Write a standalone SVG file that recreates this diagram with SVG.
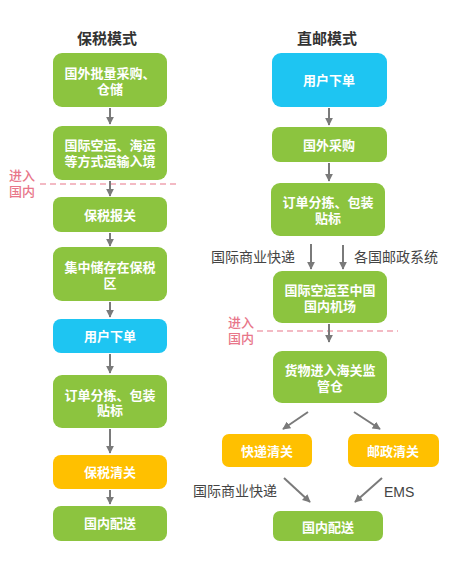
<svg xmlns="http://www.w3.org/2000/svg" width="463" height="569" viewBox="0 0 463 569">
<defs>
<marker id="ah" viewBox="0 0 10 10" refX="9" refY="5" markerWidth="4" markerHeight="4" orient="auto" markerUnits="strokeWidth">
<path d="M0,0 L10,5 L0,10 z" fill="#7a7a7a"/>
</marker>
<style>
text{font-family:"Liberation Sans","Noto Sans CJK SC",sans-serif}
.g{fill:#8cc43f}
.b{fill:#1ec5f2}
.y{fill:#ffc000}
.t{fill:#fff;font-size:13px;font-weight:bold;text-anchor:middle}
.h{fill:#333;font-size:15px;font-weight:bold;text-anchor:middle}
.l{fill:#444;font-size:14px}
.p{fill:#e8768a;font-size:13px;font-weight:500}
.c line{stroke:#7a7a7a;stroke-width:2;marker-end:url(#ah)}
.d{stroke:#e8768a;stroke-width:1.2;stroke-dasharray:6 4}
</style>
</defs>
<rect width="463" height="569" fill="#fff"/>
<text class="h" x="107" y="43.5">保税模式</text>
<text class="h" x="327" y="43.5">直邮模式</text>

<line class="d" x1="40" y1="184" x2="180" y2="184"/>
<text class="p" x="9" y="179.5">进入<tspan x="9" dy="16.5">国内</tspan></text>
<line class="d" x1="257" y1="331" x2="398" y2="331"/>
<text class="p" x="228" y="326.5">进入<tspan x="228" dy="16">国内</tspan></text>

<g id="L1"><rect class="g" x="53" y="53" width="114" height="54" rx="9"/><text class="t" x="110" y="77.5">国外批量采购、<tspan x="110" dy="16">仓储</tspan></text></g>
<g id="L2"><rect class="g" x="53" y="126" width="114" height="54" rx="9"/><text class="t" x="110" y="149.5">国际空运、海运<tspan x="110" dy="16">等方式运输入境</tspan></text></g>
<g id="L3"><rect class="g" x="53" y="197" width="114" height="35" rx="8"/><text class="t" x="110" y="219.5">保税报关</text></g>
<g id="L4"><rect class="g" x="53" y="247" width="114" height="54" rx="9"/><text class="t" x="110" y="271.5">集中储存在保税<tspan x="110" dy="16">区</tspan></text></g>
<g id="L5"><rect class="b" x="53" y="319" width="114" height="34" rx="8"/><text class="t" x="110" y="340.5">用户下单</text></g>
<g id="L6"><rect class="g" x="53" y="375" width="114" height="53" rx="9"/><text class="t" x="110" y="399.5">订单分拣、包装<tspan x="110" dy="15.5">贴标</tspan></text></g>
<g id="L7"><rect class="y" x="53" y="455" width="114" height="34" rx="8"/><text class="t" x="110" y="476.5">保税清关</text></g>
<g id="L8"><rect class="g" x="53" y="506" width="114" height="35" rx="8"/><text class="t" x="110" y="527.5">国内配送</text></g>

<g id="R1"><rect class="b" x="272" y="53" width="115" height="54" rx="9"/><text class="t" x="329" y="84.5">用户下单</text></g>
<g id="R2"><rect class="g" x="272" y="127" width="115" height="35" rx="8"/><text class="t" x="329" y="149.5">国外采购</text></g>
<g id="R3"><rect class="g" x="271" y="183" width="114" height="53" rx="9"/><text class="t" x="328" y="206.5">订单分拣、包装<tspan x="328" dy="16">贴标</tspan></text></g>
<g id="R4"><rect class="g" x="273" y="271" width="114" height="52" rx="9"/><text class="t" x="330" y="294.5">国际空运至中国<tspan x="330" dy="16">国内机场</tspan></text></g>
<g id="R5"><rect class="g" x="273" y="351" width="114" height="52" rx="9"/><text class="t" x="330" y="374.5">货物进入海关监<tspan x="330" dy="16">管仓</tspan></text></g>
<g id="R6"><rect class="y" x="222" y="434" width="90" height="33" rx="7"/><text class="t" x="267" y="455.5">快递清关</text></g>
<g id="R7"><rect class="y" x="348" y="434" width="91" height="33" rx="7"/><text class="t" x="393" y="455.5">邮政清关</text></g>
<g id="R8"><rect class="g" x="273" y="511" width="110" height="30" rx="7"/><text class="t" x="328" y="531.5">国内配送</text></g>

<text class="l" x="211" y="262">国际商业快递</text>
<text class="l" x="354" y="262">各国邮政系统</text>
<text class="l" x="193" y="496">国际商业快递</text>
<text class="l" x="384" y="497">EMS</text>

<g id="connectors" class="c">
<line x1="110" y1="108" x2="110" y2="124"/>
<line x1="110" y1="181" x2="110" y2="196"/>
<line x1="110" y1="233" x2="110" y2="246"/>
<line x1="110" y1="302" x2="110" y2="317"/>
<line x1="110" y1="354" x2="110" y2="373"/>
<line x1="110" y1="429" x2="110" y2="453"/>
<line x1="110" y1="490" x2="110" y2="504"/>
<line x1="329" y1="108" x2="329" y2="125"/>
<line x1="329" y1="163" x2="329" y2="181"/>
<line x1="311" y1="244" x2="311" y2="269"/>
<line x1="343" y1="245" x2="343" y2="269"/>
<line x1="329" y1="324" x2="329" y2="342"/>
<line x1="308" y1="412" x2="283" y2="429"/>
<line x1="354" y1="412" x2="380" y2="429"/>
<line x1="284" y1="478" x2="310" y2="502"/>
<line x1="382" y1="478" x2="355" y2="502"/>
</g>
</svg>
